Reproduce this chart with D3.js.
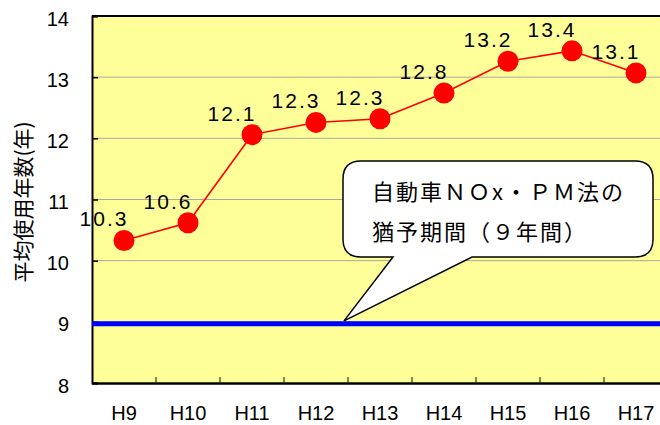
<!DOCTYPE html>
<html><head><meta charset="utf-8">
<script src="https://cdn.jsdelivr.net/npm/d3@7"></script>
<style>
html,body{margin:0;padding:0;background:#fff;}
svg{display:block;}
</style></head>
<body>
<svg id="chart" width="660" height="425"></svg>
<script>
const categories = ["H9","H10","H11","H12","H13","H14","H15","H16","H17"];
const avgYears = [10.33, 10.62, 12.06, 12.26, 12.32, 12.74, 13.26, 13.43, 13.07];
const valueLabels = ["10.3","10.6","12.1","12.3","12.3","12.8","13.2","13.4","13.1"];
const yTicks = [8, 9, 10, 11, 12, 13, 14];
const graceYears = 9;
const yTitle = "平均使用年数(年)";
const calloutLines = ["自動車ＮＯx・ＰＭ法の", "猶予期間（９年間）"];

const latin = "'Liberation Sans', Arial, sans-serif";
const cjk = "'Noto Sans CJK JP', 'Noto Sans CJK SC', sans-serif";

const svg = d3.select("#chart");
const L = 92, T = 16, R = 668, B = 383;

const x = d3.scaleBand().domain(categories).range([L, R]).padding(0);
const y = d3.scaleLinear().domain([8, 14]).range([B, T]);

// plot background
svg.append("rect").attr("x", L).attr("y", T).attr("width", R - L).attr("height", B - T)
  .attr("fill", "#FFFF99");

// gridlines
svg.append("g").selectAll("line").data(yTicks.filter(d => d > 8 && d < 14)).join("line")
  .attr("x1", L).attr("x2", R).attr("y1", d => y(d)).attr("y2", d => y(d))
  .attr("stroke", "#a8a8a0").attr("stroke-width", 1);

// y axis
const yAxis = svg.append("g").attr("transform", `translate(${L},0)`)
  .call(d3.axisLeft(y).tickValues(yTicks).tickSize(-6).tickPadding(23).tickFormat(d3.format("d")));
yAxis.select(".domain").attr("stroke", "#000").attr("stroke-width", 2);
yAxis.selectAll(".tick line").attr("stroke", "#000").attr("stroke-width", 1.5);
yAxis.selectAll(".tick text").attr("font-family", latin).attr("font-size", 20).attr("fill", "#000").attr("dy", "0.45em");

// x axis
const xAxis = svg.append("g").attr("transform", `translate(0,${B})`)
  .call(d3.axisBottom(x).tickSize(0).tickPadding(23));
xAxis.select(".domain").attr("stroke", "#000").attr("stroke-width", 2.5);
xAxis.selectAll(".tick text").attr("font-family", latin).attr("font-size", 20).attr("fill", "#000");
// band boundary ticks (inside)
svg.append("g").selectAll("line").data(categories.slice(1)).join("line")
  .attr("x1", d => x(d)).attr("x2", d => x(d)).attr("y1", B).attr("y2", B - 6)
  .attr("stroke", "#333").attr("stroke-width", 1.2);

// top border
svg.append("line").attr("x1", L).attr("x2", R).attr("y1", T).attr("y2", T)
  .attr("stroke", "#000").attr("stroke-width", 2);

// blue grace-period line
svg.append("line").attr("x1", L).attr("x2", R).attr("y1", y(graceYears) + 2).attr("y2", y(graceYears) + 2)
  .attr("stroke", "#0000FF").attr("stroke-width", 5);

// callout balloon
const bx0 = 343, by0 = 161, bx1 = 653, by1 = 257, r = 18;
const tipX = x("H13") - 4, tipY = y(graceYears) - 1;
const tA = 393, tB = 472;
const path = d3.path();
path.moveTo(bx0 + r, by0);
path.lineTo(bx1 - r, by0);
path.quadraticCurveTo(bx1, by0, bx1, by0 + r);
path.lineTo(bx1, by1 - r);
path.quadraticCurveTo(bx1, by1, bx1 - r, by1);
path.lineTo(tB, by1);
path.lineTo(tipX, tipY);
path.lineTo(tA, by1);
path.lineTo(bx0 + r, by1);
path.quadraticCurveTo(bx0, by1, bx0, by1 - r);
path.lineTo(bx0, by0 + r);
path.quadraticCurveTo(bx0, by0, bx0 + r, by0);
path.closePath();
svg.append("path").attr("d", path.toString()).attr("fill", "#fff").attr("stroke", "#000").attr("stroke-width", 1.5);

svg.append("g").selectAll("text").data(calloutLines).join("text")
  .attr("x", 372).attr("y", (d, i) => 200 + i * 40)
  .attr("font-family", cjk).attr("font-size", 22).attr("letter-spacing", 2)
  .attr("fill", "#000").text(d => d);

// red line and markers
const pts = categories.map((c, i) => ({c, v: avgYears[i], label: valueLabels[i]}));
const line = d3.line().x(d => x(d.c) + x.bandwidth() / 2).y(d => y(d.v));
svg.append("path").datum(pts).attr("d", line).attr("fill", "none")
  .attr("stroke", "#FF0000").attr("stroke-width", 1.6);
svg.append("g").selectAll("circle").data(pts).join("circle")
  .attr("cx", d => x(d.c) + x.bandwidth() / 2).attr("cy", d => y(d.v)).attr("r", 10.5)
  .attr("fill", "#FF0000");

// value labels
svg.append("g").selectAll("text").data(pts).join("text")
  .attr("x", d => x(d.c) + x.bandwidth() / 2 - 20).attr("y", d => y(d.v) - 14)
  .attr("text-anchor", "middle").attr("font-family", latin).attr("font-size", 21)
  .attr("letter-spacing", 2).attr("fill", "#000").text(d => d.label);

// y title
svg.append("text").attr("transform", "translate(31,202) rotate(-90)")
  .attr("text-anchor", "middle").attr("font-family", cjk).attr("font-size", 21)
  .attr("fill", "#000").text(yTitle);
</script>
</body></html>
